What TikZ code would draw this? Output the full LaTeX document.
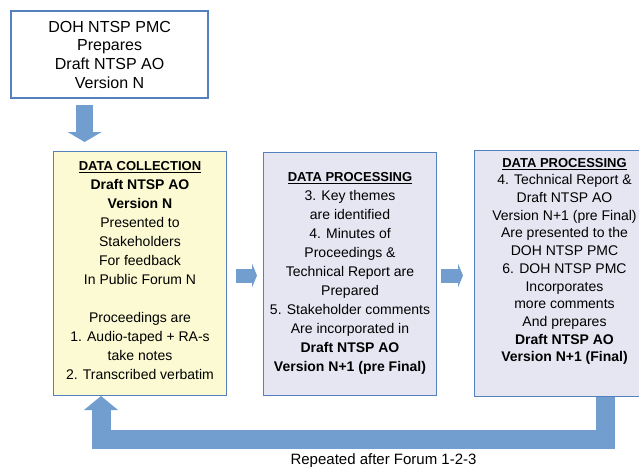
\documentclass[tikz,border=0pt]{standalone}
\usepackage{fontspec}
\setmainfont{Liberation Sans}
\usetikzlibrary{arrows.meta,positioning}
\definecolor{edgeblue}{RGB}{84,129,189}
\definecolor{flowblue}{RGB}{113,158,207}
\definecolor{collectfill}{RGB}{251,250,210}
\definecolor{procfill}{RGB}{230,230,243}
\newcommand{\stagehead}[1]{{\fontsize{13}{19}\selectfont\underline{\textbf{#1}}}}
\tikzset{
  flow box/.style={draw=edgeblue,line width=1pt,inner sep=0pt,align=center,
    font=\fontsize{14}{19}\selectfont},
  source box/.style={flow box,line width=2.2pt,fill=white,minimum width=197pt,
    minimum height=87pt,font=\fontsize{16}{18.7}\selectfont},
  collect box/.style={flow box,fill=collectfill,minimum width=173pt,
    minimum height=244pt},
  process box/.style={flow box,fill=procfill,minimum width=173pt,
    minimum height=243pt},
  feed arrow/.style={draw=flowblue,line width=17pt,
    -{Triangle[width=34pt,length=10pt,line width=0pt]}},
  stage arrow/.style={draw=flowblue,line width=14pt,
    -{Triangle[width=24pt,length=5pt,line width=0pt]}},
  loop arrow/.style={draw=flowblue,line width=19pt,miter limit=10,
    -{Triangle[width=34pt,length=14pt,line width=0pt]}},
  loop label/.style={font=\fontsize{15}{18}\selectfont,inner sep=0pt},
}
\begin{document}
\begin{tikzpicture}[x=1pt,y=-1pt]
  \clip (0,0) rectangle (639,466);

  % PMC draft
  \node[source box,anchor=north west] (doh) at (10,10)
    {DOH NTSP PMC\\Prepares\\Draft NTSP AO\\Version N};

  % Forum and the two processing stages
  \node[collect box,anchor=north west,text depth=6pt] (collect) at (53,151)
    {\stagehead{DATA COLLECTION}\\\textbf{Draft NTSP AO}\\\textbf{Version N}\\
     Presented to\\Stakeholders\\For feedback\\In Public Forum N\\[19pt]
     Proceedings are\\1. Audio-taped + RA-s\\take notes\\2. Transcribed verbatim};
  \node[process box,right=36pt of collect] (proc)
    {\stagehead{DATA PROCESSING}\\3. Key themes\\are identified\\4. Minutes of\\
     Proceedings \&\\Technical Report are\\Prepared\\5. Stakeholder comments\\
     Are incorporated in\\\textbf{Draft NTSP AO}\\\textbf{Version N+1 (pre Final)}};
  \node[process box,right=37pt of proc,minimum width=180pt,minimum height=246pt,
    text depth=27pt,font=\fontsize{14}{17.7}\selectfont] (final)
    {\stagehead{DATA PROCESSING}\\4. Technical Report \&\\Draft NTSP AO\\
     Version N+1 (pre Final)\\Are presented to the\\DOH NTSP PMC\\
     6. DOH NTSP PMC\\Incorporates\\more comments\\And prepares\\
     \textbf{Draft NTSP AO}\\\textbf{Version N+1 (Final)}};

  % Arrows between stages
  \coordinate (dohfoot) at ([xshift=-25pt]doh.south);
  \draw[feed arrow,shorten >=9pt] ([yshift=-6pt]dohfoot) -- (collect.north -| dohfoot);
  \draw[stage arrow] ([xshift=9pt,yshift=-2pt]collect.east) -- ([xshift=-6pt,yshift=-2pt]proc.west);
  \draw[stage arrow] ([xshift=4pt,yshift=-2pt]proc.east) -- ([xshift=-11pt,yshift=-2pt]final.west);

  % Back to the next forum
  \coordinate (loopL) at ([xshift=-39pt,yshift=-43pt]collect.south);
  \draw[loop arrow] ([xshift=41pt]final.south) |- node[loop label,pos=0.72,anchor=base,yshift=-25pt] (repeat)
    {Repeated after Forum 1-2-3} (loopL) -- ([xshift=-39pt]collect.south);
\end{tikzpicture}
\end{document}
